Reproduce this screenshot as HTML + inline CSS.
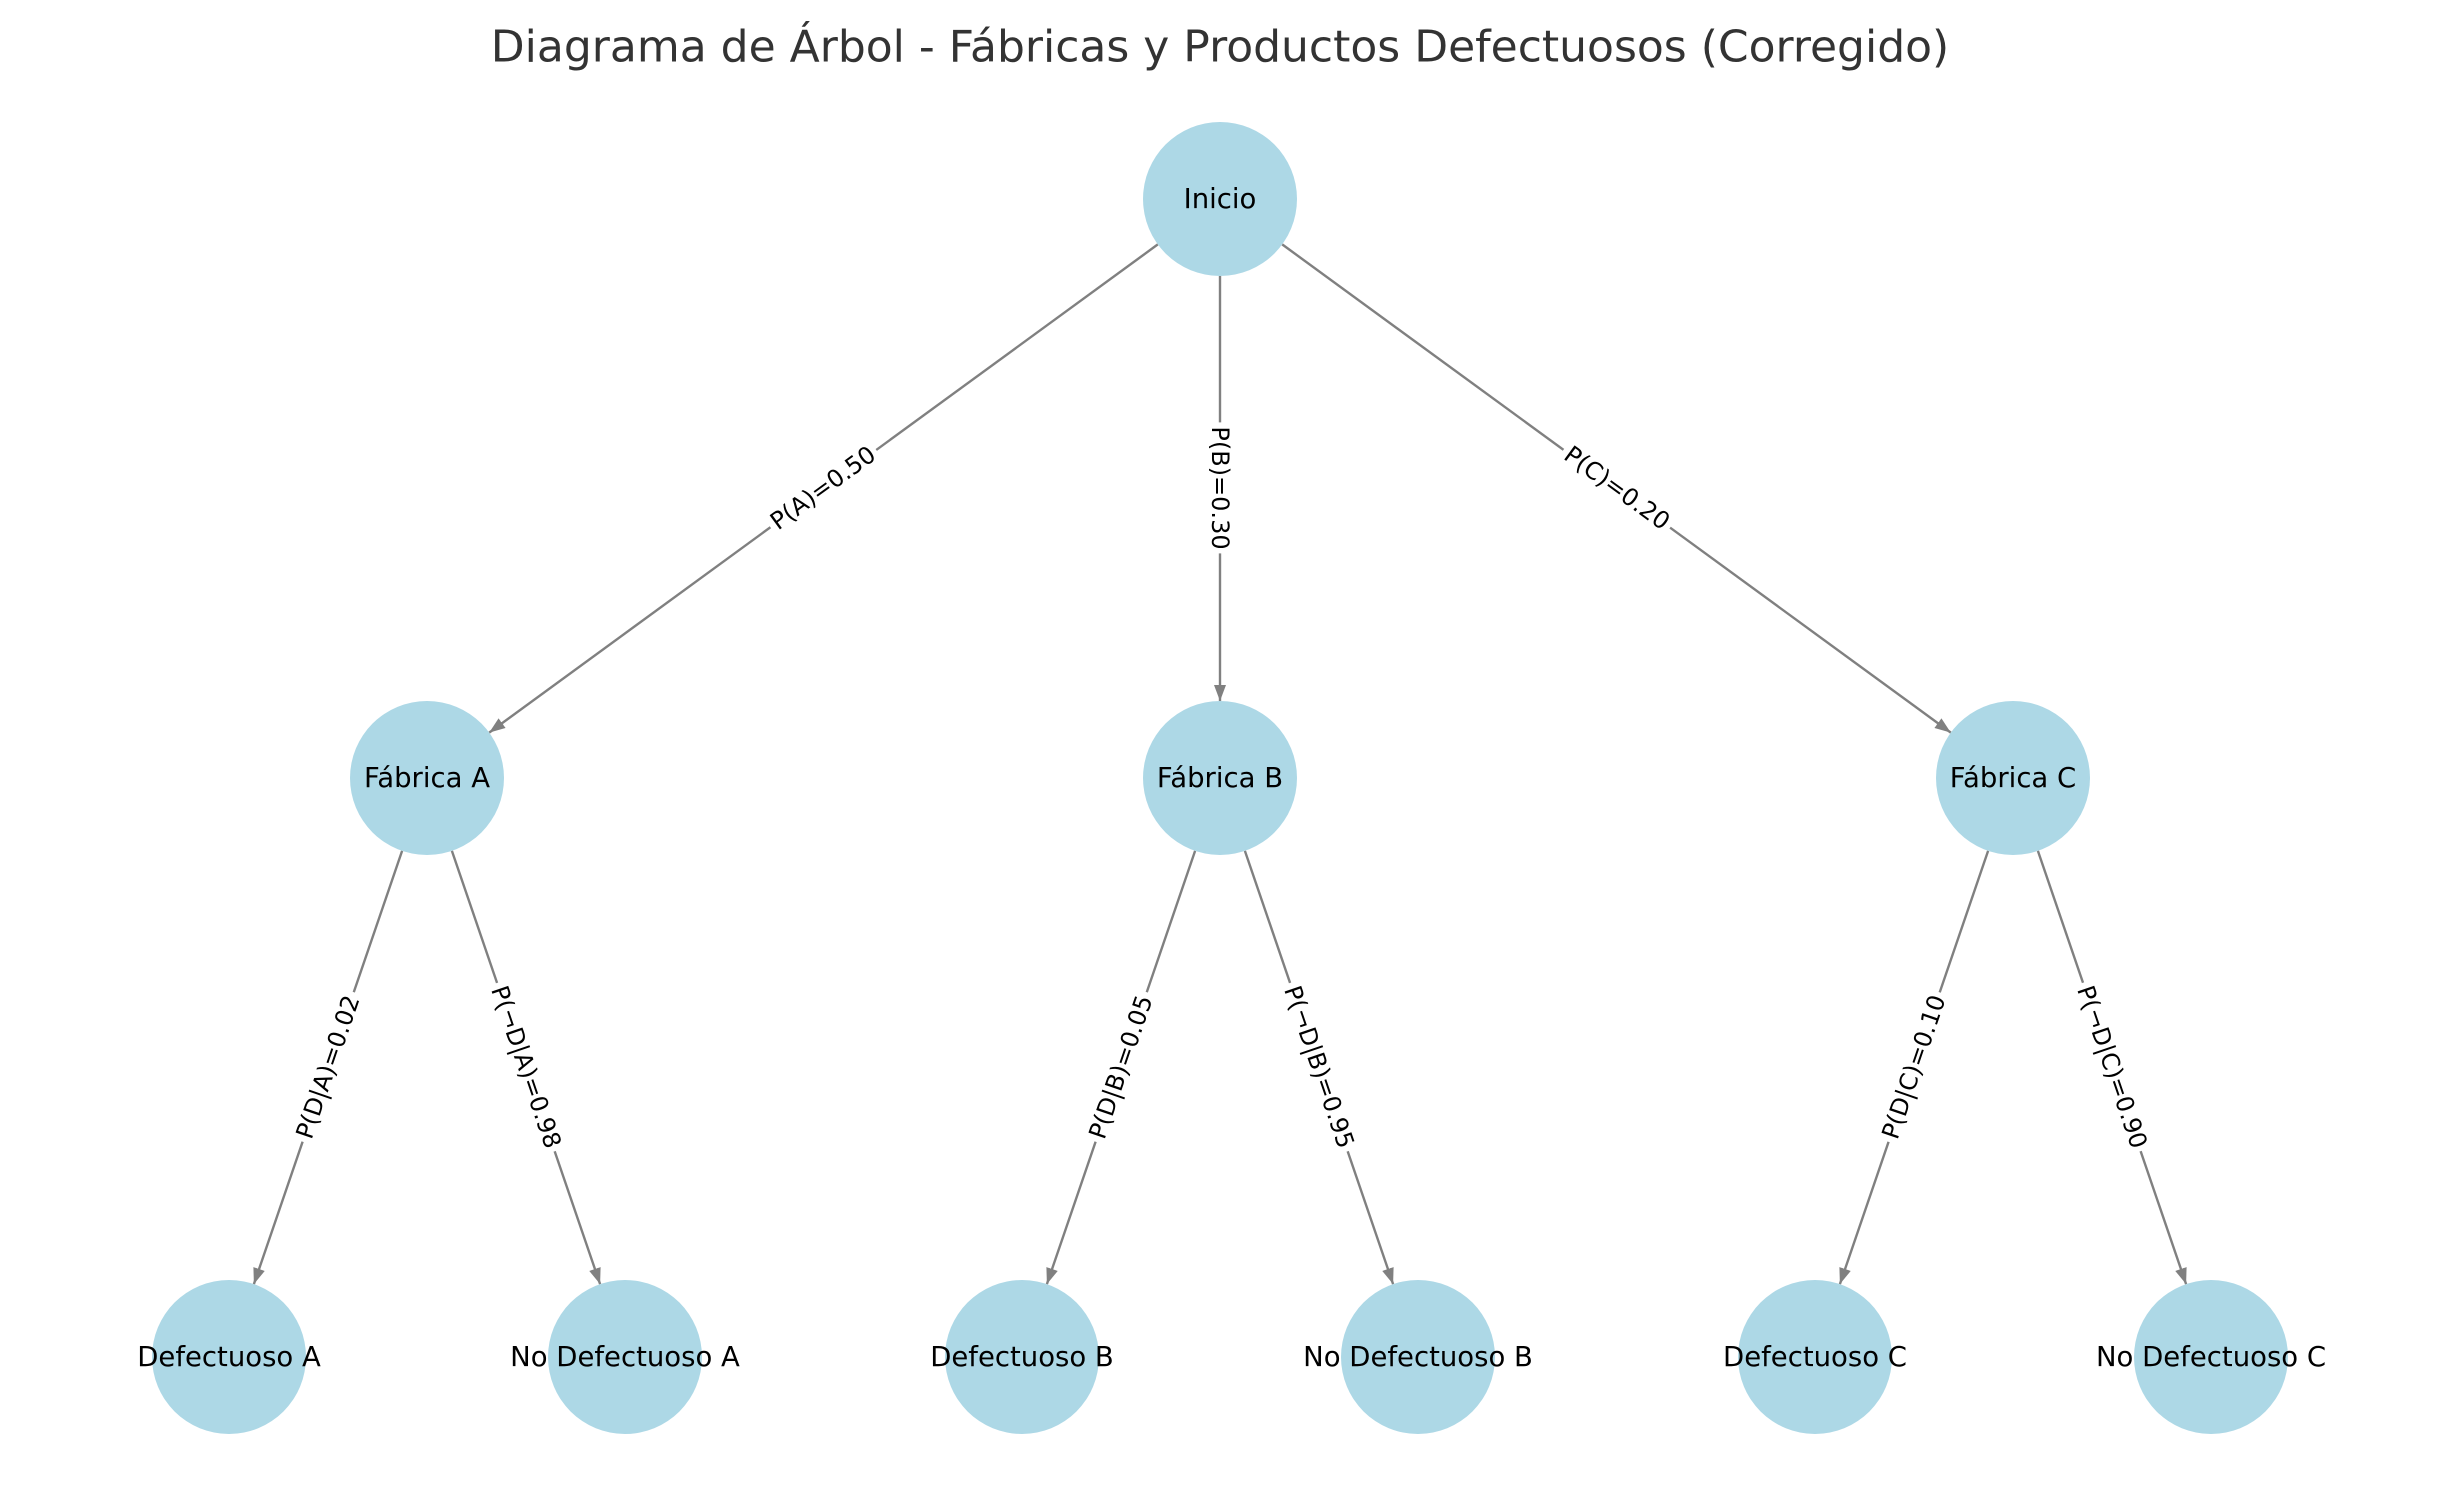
<!DOCTYPE html>
<html><head><meta charset="utf-8"><style>
body{margin:0;width:2440px;height:1498px;background:#fff;position:relative;overflow:hidden;font-family:"DejaVu Sans","Liberation Sans",sans-serif;}
svg{position:absolute;left:0;top:0}
.t{position:absolute;left:1220px;top:47px;transform:translate(-50%,-50%);font-size:44px;color:#333;white-space:nowrap}
.n{position:absolute;transform:translate(-50%,-50%);font-size:27.5px;color:#000;white-space:nowrap}
.e{position:absolute;font-size:24px;color:#000;background:#fff;padding:2px 4px;white-space:nowrap;line-height:1}
</style></head><body>
<svg width="2440" height="1498">
<defs><marker id="a" markerWidth="16" markerHeight="12" refX="16" refY="6" orient="auto" markerUnits="userSpaceOnUse"><path d="M0,0 L16,6 L0,12 z" fill="#808080"/></marker></defs>
<g stroke="#808080" stroke-width="2.4" marker-end="url(#a)">
<line x1="1157.8" y1="244.4" x2="489.2" y2="732.6"/>
<line x1="1220" y1="276" x2="1220" y2="701"/>
<line x1="1282.2" y1="244.4" x2="1950.8" y2="732.6"/>
<line x1="402.1" y1="850.9" x2="253.9" y2="1284.1"/>
<line x1="451.9" y1="850.9" x2="600.1" y2="1284.1"/>
<line x1="1195.1" y1="850.9" x2="1046.9" y2="1284.1"/>
<line x1="1244.9" y1="850.9" x2="1393.1" y2="1284.1"/>
<line x1="1988.1" y1="850.9" x2="1839.9" y2="1284.1"/>
<line x1="2037.9" y1="850.9" x2="2186.1" y2="1284.1"/>
</g>
<g fill="#add8e6">
<circle cx="1220" cy="199" r="77"/>
<circle cx="427" cy="778" r="77"/><circle cx="1220" cy="778" r="77"/><circle cx="2013" cy="778" r="77"/>
<circle cx="229" cy="1357" r="77"/><circle cx="625" cy="1357" r="77"/><circle cx="1022" cy="1357" r="77"/>
<circle cx="1418" cy="1357" r="77"/><circle cx="1815" cy="1357" r="77"/><circle cx="2211" cy="1357" r="77"/>
</g>
</svg>
<div class="t">Diagrama de Árbol - Fábricas y Productos Defectuosos (Corregido)</div>
<div class="n" style="left:1220px;top:199px">Inicio</div>
<div class="n" style="left:427px;top:778px">Fábrica A</div>
<div class="n" style="left:1220px;top:778px">Fábrica B</div>
<div class="n" style="left:2013px;top:778px">Fábrica C</div>
<div class="n" style="left:229px;top:1357px">Defectuoso A</div>
<div class="n" style="left:625px;top:1357px">No Defectuoso A</div>
<div class="n" style="left:1022px;top:1357px">Defectuoso B</div>
<div class="n" style="left:1418px;top:1357px">No Defectuoso B</div>
<div class="n" style="left:1815px;top:1357px">Defectuoso C</div>
<div class="n" style="left:2211px;top:1357px">No Defectuoso C</div>
<div class="e" style="left:823px;top:488px;transform:translate(-50%,-50%) rotate(-36.1deg)">P(A)=0.50</div>
<div class="e" style="left:1220px;top:488px;transform:translate(-50%,-50%) rotate(90deg)">P(B)=0.30</div>
<div class="e" style="left:1617px;top:488px;transform:translate(-50%,-50%) rotate(36.1deg)">P(C)=0.20</div>
<div class="e" style="left:328px;top:1067px;transform:translate(-50%,-50%) rotate(-71.1deg)">P(D|A)=0.02</div>
<div class="e" style="left:526px;top:1067px;transform:translate(-50%,-50%) rotate(71.1deg)">P(¬D|A)=0.98</div>
<div class="e" style="left:1121px;top:1067px;transform:translate(-50%,-50%) rotate(-71.1deg)">P(D|B)=0.05</div>
<div class="e" style="left:1319px;top:1067px;transform:translate(-50%,-50%) rotate(71.1deg)">P(¬D|B)=0.95</div>
<div class="e" style="left:1914px;top:1067px;transform:translate(-50%,-50%) rotate(-71.1deg)">P(D|C)=0.10</div>
<div class="e" style="left:2112px;top:1067px;transform:translate(-50%,-50%) rotate(71.1deg)">P(¬D|C)=0.90</div>
</body></html>
